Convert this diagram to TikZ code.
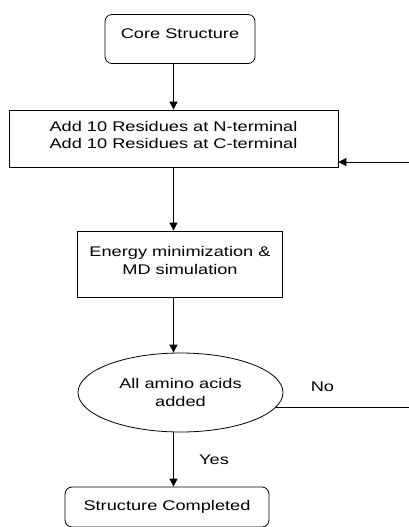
\documentclass[tikz,border=0pt]{standalone}
\usepackage{fontspec}
\setmainfont{Liberation Sans}[FakeStretch=1.3]
\usetikzlibrary{arrows.meta,shapes.geometric}
\tikzset{
 box/.style={draw,align=center,font=\fontsize{14}{18}\selectfont,inner sep=0pt},
 rbox/.style={box,rounded corners=7pt},
 decision/.style={draw,ellipse,align=center,font=\fontsize{14}{18}\selectfont,
             inner sep=0pt,minimum width=205pt,minimum height=79pt},
 arrow/.style={-{Triangle[length=8pt,width=8pt]},line width=0.8pt},
 feed/.style={line width=0.8pt}
}
\begin{document}
\begin{tikzpicture}[x=1pt,y=-1pt,line width=0.8pt]
\useasboundingbox (0,0) rectangle (409,527);
\node[rbox,minimum width=150pt,minimum height=49pt] (core) at (180,39) {Core Structure\\[-8pt]~};
\node[box,minimum width=329pt,minimum height=57pt] (resid) at (173.5,138.5)
  {Add 10 Residues at N-terminal\\[-1pt]Add 10 Residues at C-terminal\\[-10pt]~};
\node[box,minimum width=205pt,minimum height=66pt] (mdsim) at (180,264)
  {Energy minimization \&\\MD simulation\\[-10pt]~};
\node[decision] (check) at (180.5,392.5) {All amino acids\\added};
\node[rbox,minimum width=204pt,minimum height=40pt] (done) at (167,507) {Structure Completed};
\coordinate (loopin) at (409,162);
\coordinate (loopout) at (409,407);
\draw[arrow] (core.south -| resid.north) -- (resid.north);
\draw[arrow] (resid.south) -- (resid.south |- mdsim.north);
\draw[arrow] (mdsim.south -| resid.south) -- (check.north -| resid.south);
\draw[arrow] (check.south -| resid.south) -- (done.north -| resid.south)
  node[midway,right=22pt,font=\fontsize{14}{18}\selectfont] {Yes};
\draw[feed] (check.-9) -- (check.-9 -| loopout)
  node[pos=0.35,above=12pt,font=\fontsize{14}{18}\selectfont] {No};
\draw[arrow] (loopin) -- (loopin -| resid.east);
\end{tikzpicture}
\end{document}
